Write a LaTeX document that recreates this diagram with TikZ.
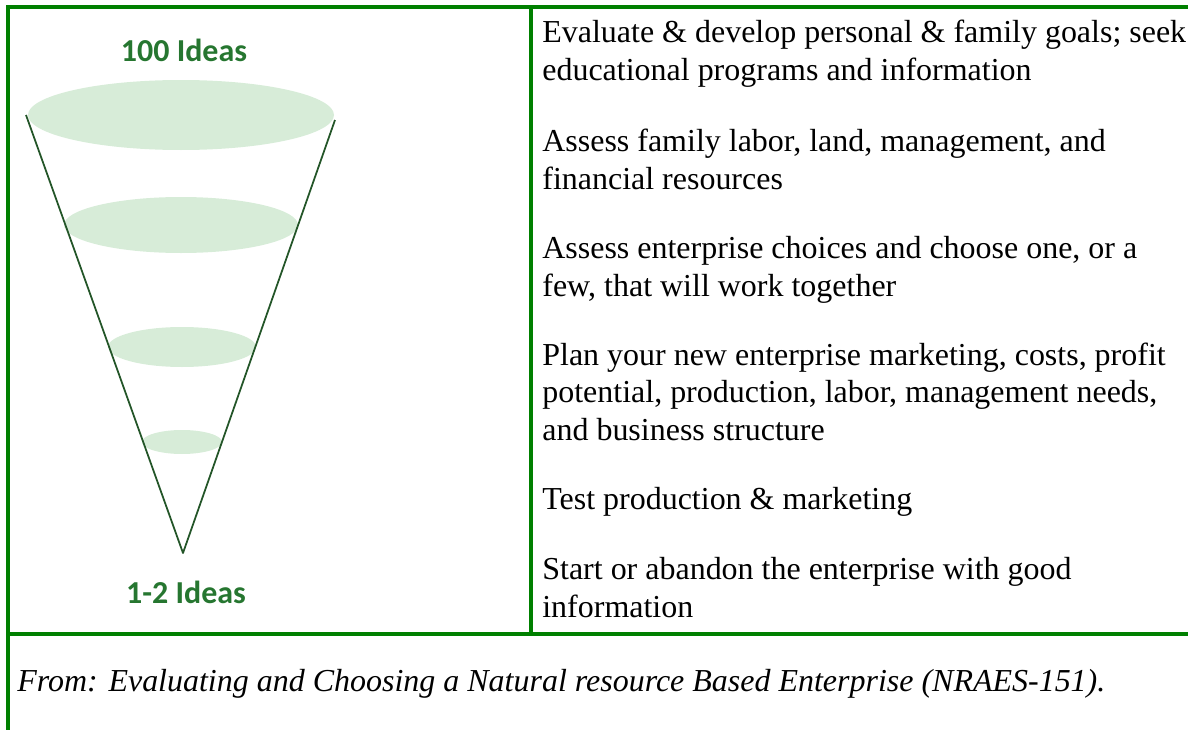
\documentclass[tikz,border=0pt]{standalone}
\usepackage{fontspec}
\setmainfont{Liberation Serif}
\newfontfamily\labelfont{Carlito}
\definecolor{framegreen}{RGB}{0,128,0}
\definecolor{funnelfill}{RGB}{215,236,216}
\definecolor{funnelline}{RGB}{35,85,40}
\definecolor{ideagreen}{RGB}{38,118,48}
\tikzset{
  frame/.style={framegreen,line width=2.4pt},
  disc/.style={fill=funnelfill,draw=none},
  idea/.style={font=\labelfont\bfseries\fontsize{18.2}{21}\selectfont,text=ideagreen,inner sep=0pt},
  stage/.style={anchor=base west,align=left,inner sep=0pt,font=\fontsize{18.2}{21.3}\selectfont}
}
\begin{document}
\begin{tikzpicture}[x=0.02cm,y=-0.02cm]
  \useasboundingbox (0,0) rectangle (1188,730);
  % table lines
  \draw[frame] (8,730) -- (8,7) -- (1188,7);
  \draw[frame] (531,7) -- (531,634);
  \draw[frame] (8,634) -- (1188,634);
  % funnel
  \fill[disc] (181,115) ellipse (153 and 35);
  \fill[disc] (181,225) ellipse (117 and 28);
  \fill[disc] (182,347) ellipse (74 and 20);
  \fill[disc] (182,442) ellipse (40 and 12);
  \coordinate (tl) at (26,115);
  \coordinate (tr) at (335,120);
  \coordinate (apex) at (183,553);
  \draw[funnelline,line width=1pt,line join=round] (tl) -- (apex) -- (tr);
  \node[idea] (top) at (184,50) {100 Ideas};
  \node[idea] (bottom) at (186,592) {1-2 Ideas};
  % steps (anchored on the last line)
  \node[stage] (s1) at (542,80) {Evaluate \& develop personal \& family goals; seek\\educational programs and information};
  \node[stage] (s2) at (542,189) {Assess family labor, land, management, and\\financial resources};
  \node[stage] (s3) at (542,296) {Assess enterprise choices and choose one, or a\\few, that will work together};
  \node[stage] (s4) at (542,440) {Plan your new enterprise marketing, costs, profit\\potential, production, labor, management needs,\\and business structure};
  \node[stage] (s5) at (542,509) {Test production \& marketing};
  \node[stage] (s6) at (542,617) {Start or abandon the enterprise with good\\information};
  % source
  \node[stage,font=\itshape\fontsize{18.2}{21.3}\selectfont] (src) at (17,691) {From: Evaluating and Choosing a Natural resource Based Enterprise (NRAES-151).};
\end{tikzpicture}
\end{document}
